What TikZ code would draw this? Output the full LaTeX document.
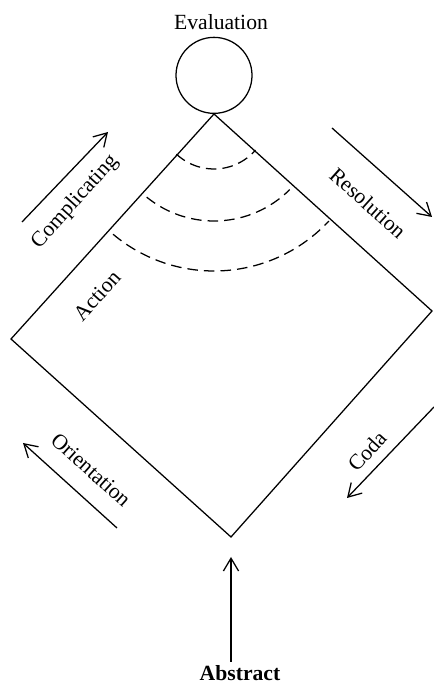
\documentclass[tikz,border=0pt]{standalone}
\usepackage{fontspec}
\setmainfont{Liberation Serif}
\usetikzlibrary{arrows.meta}

\begin{document}
\begin{tikzpicture}[scale=1,
  >={Straight Barb[length=3.2mm,width=3.8mm]},
  lbl/.style={font=\fontsize{15.4}{18}\selectfont,inner sep=0pt},
  arcline/.style={line width=0.9pt,dash pattern=on 7.5pt off 4.3pt}]

\useasboundingbox (0,0) rectangle (10.825,17.125);

\coordinate (top) at (5.35,14.275);
\coordinate (left) at (0.275,8.65);
\coordinate (bottom) at (5.775,3.7);
\coordinate (right) at (10.8,9.35);

\draw[line width=0.9pt] (top)--(right)--(bottom)--(left)--cycle;

\node[draw,line width=0.9pt,circle,minimum size=1.9cm,inner sep=0pt,anchor=south] (eval) at (top) {};
\node[lbl,anchor=base] (evaltxt) at (5.525,16.375) {Evaluation};

% arcs under the top corner
\foreach \r/\a/\b in {1.375/227/319,2.675/231/315,3.925/230/317}
  \draw[arcline] (top) ++(\a:\r) arc[start angle=\a,end angle=\b,radius=\r];

% side arrows
\coordinate (c1) at (0.55,11.575);
\coordinate (c2) at (2.7,13.825);
\coordinate (r1) at (8.3,13.925);
\coordinate (r2) at (10.8,11.7);
\coordinate (o1) at (2.925,3.925);
\coordinate (o2) at (0.575,6.05);
\coordinate (k1) at (10.85,6.95);
\coordinate (k2) at (8.675,4.675);

\draw[->,line width=0.9pt] (c1)--(c2);
\draw[->,line width=0.9pt] (r1)--(r2);
\draw[->,line width=0.9pt] (o1)--(o2);
\draw[->,line width=0.9pt] (k1)--(k2);

\node[lbl,rotate=48] (compl) at (1.875,12.075) {Complicating};
\node[lbl,rotate=48] (action) at (2.425,9.725) {Action};
\node[lbl,rotate=-42] (resol) at (9.2,12.05) {Resolution};
\node[lbl,rotate=-42] (orient) at (2.275,5.375) {Orientation};
\node[lbl,rotate=48] (coda) at (9.175,5.85) {Coda};

\node[lbl,font=\fontsize{15.4}{18}\selectfont\bfseries,anchor=base] (abstract) at (6.0,0.1) {Abstract};
\coordinate (a1) at (5.775,0.575);
\draw[->,line width=0.9pt,shorten >=0.5cm] (a1)--(bottom);

\end{tikzpicture}
\end{document}
